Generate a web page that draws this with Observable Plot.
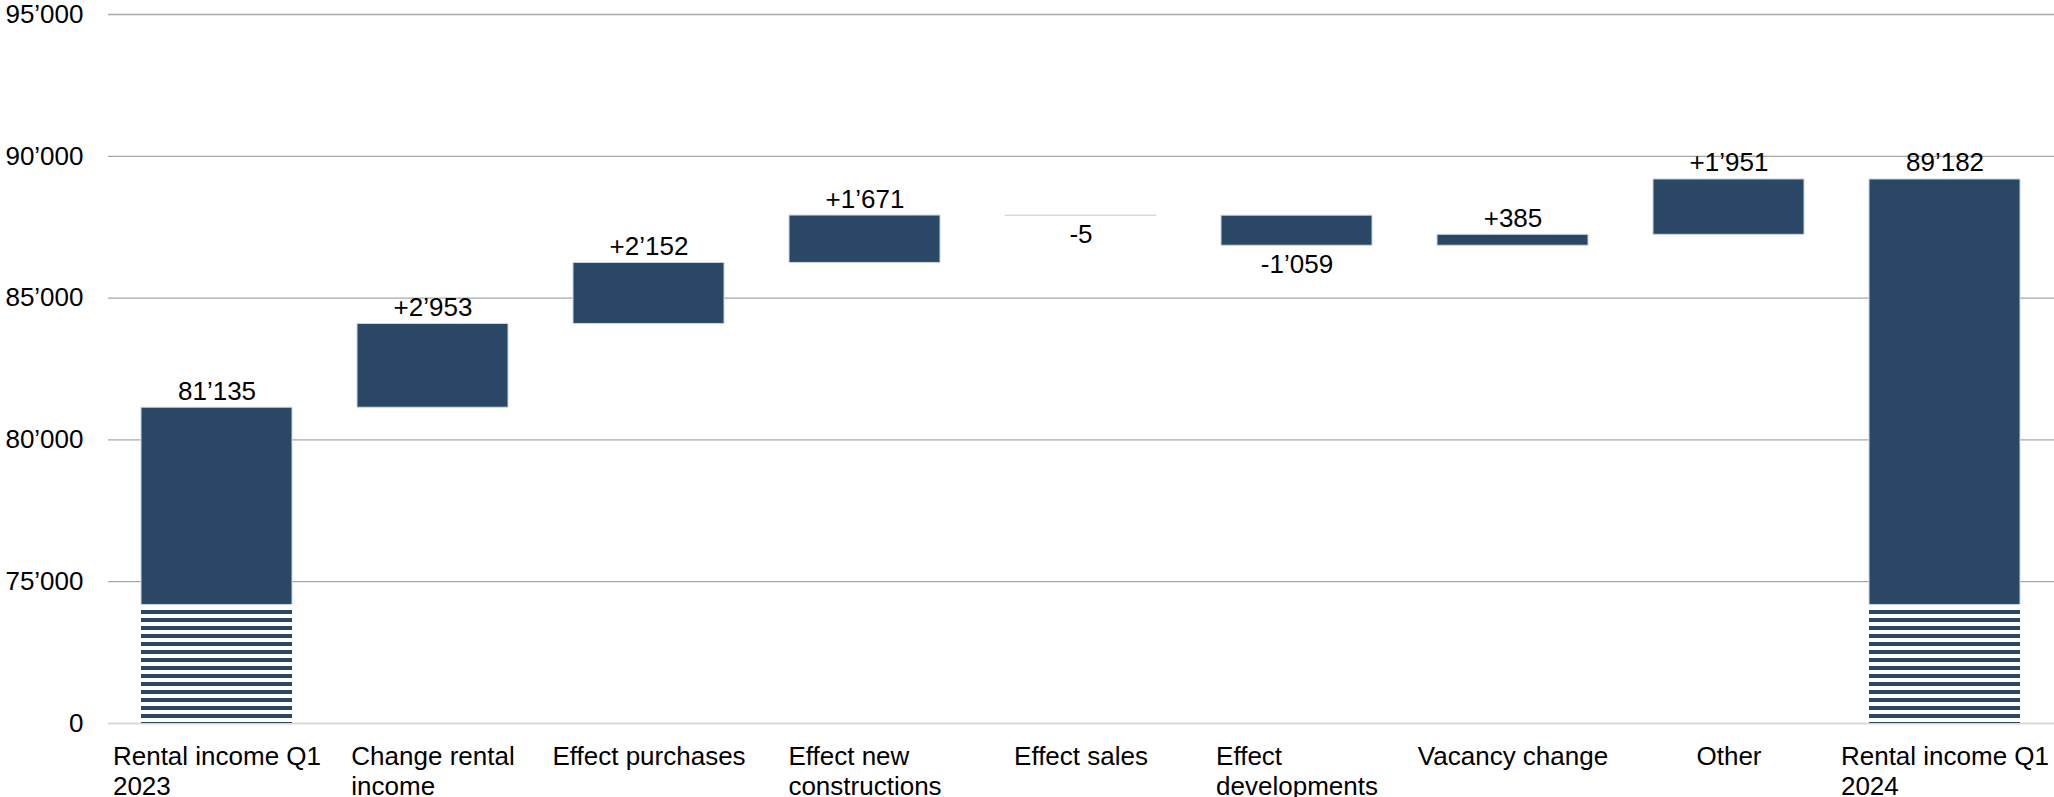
<!DOCTYPE html>
<html>
<head>
<meta charset="utf-8">
<script src="https://cdn.jsdelivr.net/npm/d3@7"></script>
<script src="https://cdn.jsdelivr.net/npm/@observablehq/plot@0.6"></script>
<style>
  html, body { margin: 0; padding: 0; background: #ffffff; overflow: hidden; }
  #chart svg { display: block; }
</style>
</head>
<body>
<div id="chart"></div>
<script>
// ---- Data ----
const categories = [
  "Rental income Q1 2023", "Change rental income", "Effect purchases",
  "Effect new constructions", "Effect sales", "Effect developments",
  "Vacancy change", "Other", "Rental income Q1 2024"
];
const categoryLines = [
  ["Rental income Q1", "2023"], ["Change rental", "income"], ["Effect purchases"],
  ["Effect new", "constructions"], ["Effect sales"], ["Effect", "developments"],
  ["Vacancy change"], ["Other"], ["Rental income Q1", "2024"]
];
const startValue = 81135;
const deltas = [2953, 2152, 1671, -5, -1059, 385, 1951];
const endValue = 89182;
const yTickValues = [0, 75000, 80000, 85000, 90000, 95000];

// ---- Broken axis: values below 75'000 are compressed into one tick interval ----
const AXIS_FLOOR = 70000;           // axis position of the value 0
const toAxis = v => v >= 75000 ? v : AXIS_FLOOR + v * (75000 - AXIS_FLOOR) / 75000;
const fromAxis = a => a >= 75000 ? a : (a - AXIS_FLOOR) * 75000 / (75000 - AXIS_FLOOR);
const BREAK_HATCH_TOP = 74000;      // axis units: top of the striped (cut) part
const BREAK_SOLID_BOTTOM = 74180;   // axis units: bottom of the solid part

const BAR = "#2a4766";
const EDGE = "#cdd7e2";
const FONT = "'Liberation Sans', Arial, Helvetica, sans-serif";
const FS = 26;

const loc = d3.formatLocale({decimal: ".", thousands: "\u2019", grouping: [3], currency: ["", ""], minus: "-"});
const fmt = loc.format(",d");

// ---- Build waterfall rows ----
const rows = [];
rows.push({cat: categories[0], y1: BREAK_SOLID_BOTTOM, y2: startValue, label: fmt(startValue), neg: false, total: true});
let run = startValue;
deltas.forEach((d, i) => {
  rows.push({cat: categories[i + 1], y1: run, y2: run + d, label: (d > 0 ? "+" : "") + fmt(d), neg: d < 0, total: false});
  run += d;
});
rows.push({cat: categories[8], y1: BREAK_SOLID_BOTTOM, y2: endValue, label: fmt(endValue), neg: false, total: true});
const totals = rows.filter(r => r.total);

// ---- Measure category label blocks (centered block, left-aligned lines) ----
const ctx = document.createElement("canvas").getContext("2d");
ctx.font = `${FS}px ${FONT}`;
const blockWidth = categoryLines.map(lines => Math.max(...lines.map(l => ctx.measureText(l).width)));

const width = 2054, height = 797;

const xLabelMarks = categories.map((c, i) =>
  Plot.text([c], {
    x: d => d, frameAnchor: "bottom",
    text: () => categoryLines[i].join("\n"),
    textAnchor: "start", lineAnchor: "top", lineHeight: 1.15,
    dx: -blockWidth[i] / 2, dy: 20,
    fontSize: FS, fill: "#000"
  })
);

const chart = Plot.plot({
  width, height,
  marginLeft: 108, marginRight: 0, marginTop: 14, marginBottom: 74,
  style: {fontFamily: FONT, fontSize: `${FS}px`, background: "#fff", color: "#000"},
  x: {type: "band", domain: categories, paddingInner: 0.3, paddingOuter: 0.15, axis: null},
  y: {domain: [AXIS_FLOOR, 95000], axis: null},
  marks: [
    Plot.ruleY(yTickValues.filter(v => v > 0).map(toAxis), {stroke: "#a8a8a8", strokeWidth: 1.3}),
    Plot.ruleY([toAxis(0)], {stroke: "#d9d9d9", strokeWidth: 2}),
    Plot.axisY(yTickValues.map(toAxis), {
      tickSize: 0, tickPadding: 25, label: null, fontSize: FS,
      tickFormat: a => fmt(Math.round(fromAxis(a)))
    }),
    Plot.barY(totals, {x: "cat", y1: () => toAxis(0), y2: () => BREAK_HATCH_TOP, fill: "url(#hatch)"}),
    Plot.barY(rows, {x: "cat", y1: "y1", y2: "y2", fill: BAR, stroke: EDGE, strokeWidth: 1}),
    Plot.text(rows.filter(r => !r.neg), {
      x: "cat", y: r => Math.max(r.y1, r.y2), text: "label",
      lineAnchor: "bottom", dy: -8, fontSize: FS, fill: "#000"
    }),
    Plot.text(rows.filter(r => r.neg), {
      x: "cat", y: r => Math.min(r.y1, r.y2), text: "label",
      lineAnchor: "top", dy: 9, fontSize: FS, fill: "#000"
    }),
    ...xLabelMarks
  ]
});

// stripe pattern for the cut part of the total bars
const ns = "http://www.w3.org/2000/svg";
const defs = document.createElementNS(ns, "defs");
const pat = document.createElementNS(ns, "pattern");
pat.setAttribute("id", "hatch");
pat.setAttribute("patternUnits", "userSpaceOnUse");
pat.setAttribute("x", "0"); pat.setAttribute("y", "2");
pat.setAttribute("width", "8"); pat.setAttribute("height", "8");
const pr = document.createElementNS(ns, "rect");
pr.setAttribute("x", "0"); pr.setAttribute("y", "0");
pr.setAttribute("width", "8"); pr.setAttribute("height", "4");
pr.setAttribute("fill", BAR);
pat.appendChild(pr);
defs.appendChild(pat);
chart.insertBefore(defs, chart.firstChild);

document.getElementById("chart").appendChild(chart);
</script>
</body>
</html>
